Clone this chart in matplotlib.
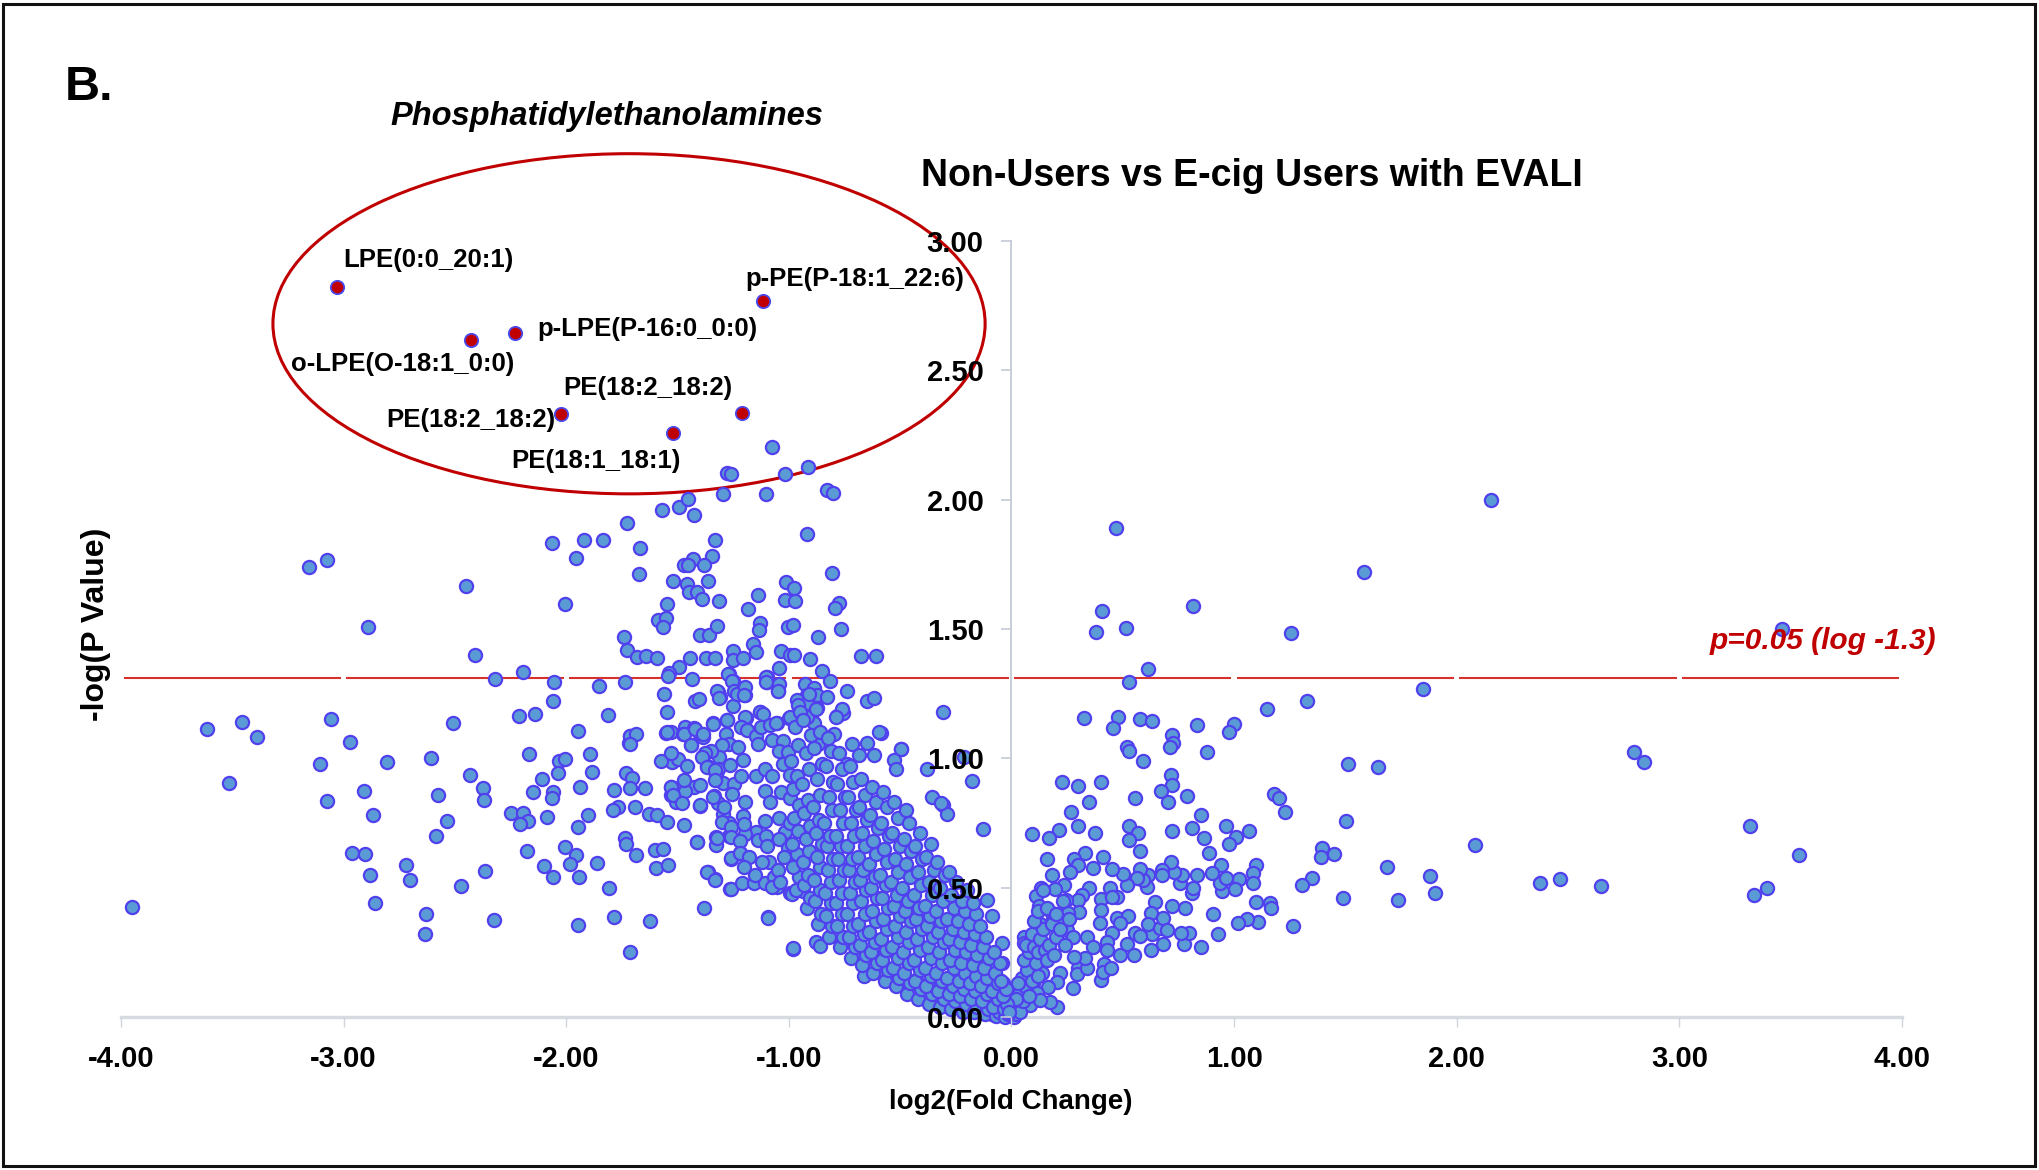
import matplotlib
matplotlib.use('Agg')
import matplotlib.pyplot as plt
from matplotlib.patches import Ellipse, Rectangle

plt.rcParams['font.family'] = ['Liberation Sans', 'DejaVu Sans']

# ---------------- data (log2 fold change, -log10 p) ----------------
labeled_names = ['LPE(0:0_20:1)', 'o-LPE(O-18:1_0:0)', 'p-LPE(P-16:0_0:0)',
                 'p-PE(P-18:1_22:6)', 'PE(18:2_18:2)', 'PE(18:2_18:2)', 'PE(18:1_18:1)']
labeled_x = [-3.03, -2.428, -2.23, -1.118, -1.211, -2.025, -1.519]
labeled_y = [2.824, 2.619, 2.645, 2.768, 2.334, 2.331, 2.257]

far_right = [(2.154, 2.00), (1.585, 1.722), (3.46, 1.50), (1.85, 1.268), (1.328, 1.22), (1.512, 0.98),
             (1.648, 0.967), (2.797, 1.024), (2.84, 0.987), (1.502, 0.759), (3.318, 0.738), (1.396, 0.654),
             (1.39, 0.617), (1.447, 0.632), (2.083, 0.665), (3.539, 0.626), (1.688, 0.578), (1.349, 0.538),
             (1.307, 0.509), (1.879, 0.547), (1.903, 0.479), (1.487, 0.459), (1.737, 0.451), (2.373, 0.518),
             (2.464, 0.534), (2.649, 0.508), (3.395, 0.498), (3.333, 0.473)]

right_mid = [(0.469, 1.890), (0.408, 1.568), (0.380, 1.488), (0.513, 1.505), (0.814, 1.589), (1.256, 1.486),
             (0.612, 1.344), (0.528, 1.294), (1.146, 1.191), (0.327, 1.156), (0.478, 1.161), (0.457, 1.118),
             (0.577, 1.151), (0.631, 1.144), (0.832, 1.128), (1.001, 1.133), (0.978, 1.103), (0.720, 1.089),
             (0.727, 1.060), (0.712, 1.044), (0.518, 1.044), (0.529, 1.029), (0.880, 1.026), (0.592, 0.990),
             (0.717, 0.937), (0.720, 0.897), (0.673, 0.875), (0.702, 0.832), (0.790, 0.854), (0.555, 0.848),
             (0.227, 0.907), (0.300, 0.893), (0.402, 0.907), (0.347, 0.832), (0.266, 0.791), (0.297, 0.740),
             (0.213, 0.723), (0.170, 0.693), (0.091, 0.707), (0.377, 0.710), (0.527, 0.740), (0.568, 0.710),
             (0.528, 0.684), (0.579, 0.642), (0.720, 0.719), (0.812, 0.729), (0.853, 0.781), (0.866, 0.691),
             (0.887, 0.635), (0.964, 0.738), (1.009, 0.697), (0.976, 0.668), (1.068, 0.720), (1.181, 0.861),
             (1.203, 0.848), (1.229, 0.791), (1.263, 0.353), (1.106, 0.367), (1.058, 0.380), (1.018, 0.362),
             (0.929, 0.320), (0.851, 0.272), (0.775, 0.281), (0.797, 0.323), (0.760, 0.326), (0.905, 0.399),
             (0.779, 0.421), (0.721, 0.429), (1.098, 0.446), (1.161, 0.439), (1.166, 0.420), (1.100, 0.586),
             (1.084, 0.558), (1.085, 0.517), (1.023, 0.532), (1.005, 0.494), (0.944, 0.488), (0.937, 0.519),
             (0.964, 0.539), (0.941, 0.586), (0.901, 0.555), (0.832, 0.549), (0.809, 0.480), (0.814, 0.497),
             (0.757, 0.517), (0.765, 0.549), (0.730, 0.562), (0.717, 0.600), (0.675, 0.568), (0.675, 0.549),
             (0.615, 0.549), (0.607, 0.504), (0.592, 0.530), (0.577, 0.571), (0.562, 0.536), (0.518, 0.510),
             (0.502, 0.552), (0.450, 0.571), (0.443, 0.497), (0.475, 0.465), (0.365, 0.575), (0.412, 0.620),
             (0.332, 0.633), (0.281, 0.612), (0.300, 0.588), (0.263, 0.562), (0.158, 0.611), (0.183, 0.548),
             (0.237, 0.510), (0.197, 0.495), (0.131, 0.500), (0.110, 0.468), (0.124, 0.430), (0.350, 0.500),
             (0.315, 0.472), (0.297, 0.452), (0.245, 0.452), (0.402, 0.455), (0.450, 0.465), (0.402, 0.414),
             (0.302, 0.407), (0.255, 0.401), (0.181, 0.403), (0.128, 0.358), (0.125, 0.313), (0.056, 0.310),
             (0.058, 0.285), (0.181, 0.368), (0.226, 0.356), (0.248, 0.336), (0.278, 0.310), (0.341, 0.310),
             (0.365, 0.269), (0.398, 0.365), (0.473, 0.382), (0.525, 0.390), (0.487, 0.362), (0.450, 0.326),
             (0.428, 0.291), (0.428, 0.259), (0.487, 0.240), (0.518, 0.282), (0.555, 0.326), (0.552, 0.240),
             (0.627, 0.259), (0.682, 0.281), (0.630, 0.320), (0.645, 0.446), (0.625, 0.401), (0.612, 0.359),
             (0.667, 0.343), (0.682, 0.382), (0.697, 0.336), (0.577, 0.313), (0.416, 0.204), (0.401, 0.143),
             (0.412, 0.175), (0.447, 0.188), (0.300, 0.188), (0.293, 0.165), (0.341, 0.191), (0.330, 0.227),
             (0.281, 0.231), (0.275, 0.113), (0.206, 0.037), (0.173, 0.059), (0.080, 0.205), (0.050, 0.143),
             (0.143, 0.220), (0.218, 0.169), (0.203, 0.136), (0.165, 0.117), (0.136, 0.169), (0.098, 0.130),
             (0.113, 0.092), (0.061, 0.092), (0.023, 0.066), (0.083, 0.046), (0.128, 0.066), (0.008, 0.027),
             (-0.022, 0.034), (-0.044, 0.066), (-0.044, 0.285), (-0.044, 0.208), (-0.037, 0.130)]

right_core = [(0.01, 0.0), (0.02, 0.01), (0.03, 0.03), (0.015, 0.05), (0.04, 0.02), (0.05, 0.06), (0.035, 0.09),
              (0.06, 0.12), (0.045, 0.15), (0.07, 0.18), (0.055, 0.22), (0.08, 0.25), (0.065, 0.28), (0.09, 0.32),
              (0.10, 0.27), (0.11, 0.21), (0.12, 0.25), (0.13, 0.30), (0.14, 0.34), (0.10, 0.37), (0.12, 0.41),
              (0.15, 0.26), (0.16, 0.22), (0.17, 0.28), (0.19, 0.24), (0.20, 0.31), (0.18, 0.36), (0.16, 0.42),
              (0.14, 0.49), (0.20, 0.40), (0.22, 0.34), (0.24, 0.28), (0.23, 0.45), (0.26, 0.38), (0.08, 0.08),
              (0.09, 0.14), (0.12, 0.16), (0.03, 0.13), (0.02, 0.07)]

left_sparse = [(-1.727, 1.908), (-2.064, 1.831), (-1.922, 1.846), (-1.834, 1.846), (-1.956, 1.776), (-1.669, 1.814),
               (-1.675, 1.711), (-3.157, 1.739), (-3.076, 1.767), (-2.451, 1.667), (-2.007, 1.596), (-2.892, 1.509),
               (-1.739, 1.469), (-1.727, 1.420), (-1.681, 1.393), (-2.409, 1.399), (-2.322, 1.308), (-2.196, 1.334),
               (-2.057, 1.294), (-1.738, 1.296), (-1.853, 1.279), (-2.060, 1.221), (-2.214, 1.163), (-2.139, 1.170),
               (-1.811, 1.167), (-3.613, 1.114), (-3.456, 1.140), (-3.388, 1.082), (-3.058, 1.153), (-2.508, 1.136),
               (-1.946, 1.106), (-1.714, 1.086), (-1.717, 1.058), (-2.972, 1.064), (-3.106, 0.980), (-2.807, 0.986),
               (-2.608, 1.002), (-2.169, 1.015), (-2.031, 0.991), (-2.006, 0.996), (-1.894, 1.017), (-3.515, 0.905),
               (-2.434, 0.934), (-2.037, 0.942), (-1.885, 0.947), (-1.732, 0.942), (-1.703, 0.923), (-2.111, 0.920),
               (-2.374, 0.886), (-2.371, 0.839), (-2.907, 0.874), (-3.076, 0.835), (-2.575, 0.858), (-2.151, 0.870),
               (-2.061, 0.869), (-2.063, 0.845), (-1.937, 0.888), (-1.784, 0.876), (-1.714, 0.885), (-1.769, 0.813),
               (-1.789, 0.800), (-1.690, 0.813), (-2.870, 0.781), (-2.537, 0.756), (-2.585, 0.700), (-2.247, 0.787),
               (-2.195, 0.787), (-2.173, 0.759), (-2.208, 0.745), (-2.085, 0.773), (-1.904, 0.780), (-1.947, 0.733),
               (-1.736, 0.693), (-1.730, 0.668), (-1.687, 0.626), (-2.961, 0.633), (-2.906, 0.629), (-2.881, 0.550),
               (-2.720, 0.589), (-2.701, 0.530), (-2.176, 0.640), (-2.006, 0.658), (-1.956, 0.627), (-1.985, 0.591),
               (-1.863, 0.596), (-2.101, 0.583), (-2.060, 0.540), (-1.944, 0.542), (-2.364, 0.566), (-2.473, 0.506),
               (-2.859, 0.441), (-3.950, 0.425), (-2.632, 0.398), (-2.635, 0.322), (-2.325, 0.374), (-1.946, 0.355),
               (-1.807, 0.497), (-1.784, 0.387), (-1.715, 0.252), (-1.624, 0.372), (-1.646, 0.886), (-1.627, 0.783),
               (-1.594, 0.781), (-1.602, 0.646), (-1.598, 0.575), (-1.564, 0.648), (-1.549, 0.752), (-1.544, 0.588),
               (-1.381, 0.420), (-1.093, 0.385), (-0.982, 0.264), (-1.263, 0.495), (-1.363, 0.561), (-1.333, 0.532),
               (-1.259, 0.612), (-1.221, 0.633), (-1.411, 0.675), (-1.327, 0.695), (-1.472, 0.744)]

left_upper = [(-1.074, 2.205), (-1.279, 2.105), (-1.260, 2.100), (-1.018, 2.099), (-0.916, 2.125), (-1.296, 2.020),
              (-1.104, 2.020), (-0.827, 2.037), (-0.801, 2.024), (-1.571, 1.960), (-1.492, 1.973), (-1.452, 2.001),
              (-1.425, 1.939), (-1.333, 1.844), (-1.347, 1.782), (-1.432, 1.769), (-1.471, 1.746), (-1.452, 1.746),
              (-1.381, 1.746), (-0.920, 1.867), (-0.805, 1.715), (-1.521, 1.685), (-1.459, 1.673), (-1.447, 1.644),
              (-1.414, 1.644), (-1.365, 1.685), (-1.389, 1.616), (-1.315, 1.609), (-1.549, 1.596), (-1.140, 1.631),
              (-1.182, 1.577), (-1.013, 1.683), (-0.976, 1.657), (-1.018, 1.612), (-0.973, 1.609), (-0.774, 1.602),
              (-0.794, 1.582), (-1.588, 1.535), (-1.552, 1.542), (-1.564, 1.509), (-1.642, 1.397), (-1.594, 1.387),
              (-1.444, 1.387), (-1.372, 1.389), (-1.331, 1.387), (-1.399, 1.475), (-1.359, 1.475), (-1.324, 1.510),
              (-1.130, 1.524), (-1.133, 1.496), (-1.005, 1.509), (-0.983, 1.515), (-0.766, 1.499), (-0.871, 1.469),
              (-1.160, 1.443), (-1.148, 1.412), (-1.250, 1.415), (-1.252, 1.380), (-1.205, 1.389), (-1.034, 1.415),
              (-0.995, 1.399), (-0.976, 1.399), (-0.905, 1.384), (-0.676, 1.395), (-0.609, 1.397), (-1.492, 1.354),
              (-1.539, 1.331), (-1.542, 1.318), (-1.434, 1.305), (-1.270, 1.326), (-1.250, 1.300), (-1.046, 1.350),
              (-1.100, 1.315), (-1.100, 1.296), (-1.048, 1.283), (-1.048, 1.261), (-0.850, 1.339), (-0.815, 1.299),
              (-0.928, 1.286), (-0.886, 1.271), (-0.920, 1.245), (-0.875, 1.245), (-0.830, 1.238), (-0.738, 1.261),
              (-1.560, 1.249), (-1.422, 1.222), (-1.403, 1.229), (-1.317, 1.257), (-1.310, 1.238), (-1.234, 1.251),
              (-1.197, 1.245), (-1.250, 1.202), (-0.965, 1.225), (-0.920, 1.213), (-0.650, 1.222), (-0.616, 1.232),
              (-0.309, 1.180), (-1.549, 1.178), (-1.130, 1.180), (-1.279, 1.148), (-1.193, 1.155), (-0.998, 1.155),
              (-0.905, 1.162), (-0.875, 1.194), (-0.785, 1.162), (-0.758, 1.175), (-1.342, 1.135), (-1.467, 1.122),
              (-1.055, 1.135)]

left_mid = [(-1.273, 1.326), (-1.257, 1.299), (-1.101, 1.314), (-1.103, 1.294), (-1.046, 1.289), (-1.050, 1.259),
            (-1.321, 1.261), (-1.313, 1.233), (-1.247, 1.261), (-1.231, 1.250), (-1.197, 1.275), (-1.201, 1.245),
            (-1.131, 1.178), (-1.117, 1.172), (-0.996, 1.158), (-1.341, 1.133), (-1.277, 1.148), (-1.197, 1.158),
            (-1.217, 1.123), (-1.187, 1.109), (-1.146, 1.088), (-1.127, 1.123), (-1.087, 1.130), (-1.057, 1.137),
            (-1.552, 1.098), (-1.528, 1.102), (-1.477, 1.096), (-1.427, 1.119), (-1.398, 1.096), (-1.387, 1.082),
            (-1.712, 1.088), (-1.688, 1.093), (-1.712, 1.057), (-1.283, 1.096), (-1.267, 1.054), (-1.227, 1.043),
            (-1.137, 1.054), (-1.076, 1.071), (-1.027, 1.068), (-1.046, 1.027), (-1.006, 1.024), (-1.438, 1.050),
            (-1.301, 1.051), (-1.315, 1.006), (-1.351, 1.027), (-1.377, 1.020), (-1.524, 0.985), (-1.498, 0.999),
            (-1.458, 0.971), (-1.368, 0.971), (-1.317, 0.957), (-1.263, 0.976), (-1.207, 0.992), (-1.146, 0.930),
            (-1.106, 0.960), (-1.076, 0.930), (-1.027, 0.978), (-0.996, 0.937), (-1.528, 0.891), (-1.477, 0.902),
            (-1.427, 0.891), (-1.398, 0.895), (-1.327, 0.937), (-1.297, 0.905), (-1.247, 0.902), (-1.217, 0.930),
            (-1.528, 0.857), (-1.508, 0.833), (-1.468, 0.875), (-1.398, 0.817), (-1.337, 0.854), (-1.317, 0.826),
            (-1.257, 0.861), (-1.197, 0.831), (-1.106, 0.875), (-1.087, 0.833), (-1.036, 0.868), (-0.996, 0.847),
            (-1.297, 0.785), (-1.267, 0.750), (-1.207, 0.778), (-1.146, 0.716), (-1.106, 0.757), (-1.046, 0.771),
            (-1.016, 0.716), (-0.996, 0.750), (-1.267, 0.698), (-1.197, 0.709), (-1.137, 0.684), (-1.101, 0.698),
            (-1.046, 0.688), (-1.006, 0.654), (-0.986, 0.626), (-1.575, 0.990), (-1.530, 1.020), (-1.549, 1.100),
            (-1.471, 1.095), (-1.422, 1.115), (-1.385, 1.095), (-1.440, 1.050), (-1.390, 1.006), (-1.370, 0.967),
            (-1.330, 0.955), (-1.530, 0.890), (-1.520, 0.858), (-1.480, 0.826), (-1.470, 0.916), (-1.330, 0.916),
            (-1.340, 0.850), (-1.290, 0.810), (-1.400, 0.820), (-1.300, 0.755), (-1.260, 0.735), (-1.200, 0.748),
            (-1.260, 0.697), (-1.220, 0.680), (-1.412, 0.675), (-1.329, 0.665), (-1.324, 0.693), (-1.367, 0.562),
            (-1.332, 0.530), (-1.261, 0.494), (-1.209, 0.517), (-1.155, 0.517), (-1.107, 0.517), (-1.055, 0.501),
            (-0.995, 0.480), (-1.093, 0.384), (-0.980, 0.266), (-0.880, 0.291), (-0.860, 0.273), (-0.663, 0.158),
            (-0.588, 0.182), (-1.260, 0.613), (-1.220, 0.633), (-1.088, 0.600), (-0.498, 1.035), (-0.588, 1.099),
            (-0.358, 0.852), (-0.309, 0.819), (-0.288, 0.785), (-0.179, 0.913), (-0.381, 0.959), (-0.127, 0.727),
            (-0.212, 1.006), (-0.111, 0.452), (-0.089, 0.390), (-0.321, 0.078), (-0.082, 0.010),
            (-0.761, 1.192), (-0.788, 1.158), (-0.798, 1.093), (-0.868, 1.054), (-0.888, 1.137), (-0.918, 1.158),
            (-0.958, 1.206), (-0.908, 1.247), (-0.878, 1.192), (-0.597, 1.102), (-0.647, 1.061), (-0.617, 1.013),
            (-0.717, 1.054), (-0.687, 1.013), (-0.738, 0.978), (-0.497, 1.037), (-0.527, 0.992), (-0.517, 0.960),
            (-0.317, 0.826), (-0.196, 0.343), (-0.166, 0.281), (-0.116, 0.240), (-0.076, 0.198), (-0.056, 0.143),
            (-0.517, 0.247), (-0.467, 0.212), (-0.427, 0.143), (-0.316, 0.129), (-0.322, 0.081), (-0.196, 0.074),
            (-0.086, 0.012), (-0.681, 0.240), (-0.627, 0.240), (-0.761, 0.288), (-0.988, 0.474), (-0.938, 0.488),
            (-1.068, 0.543), (-1.078, 0.502), (-1.15, 0.55), (-1.12, 0.60), (-1.05, 0.57), (-1.02, 0.62),
            (-1.18, 0.62), (-1.10, 0.66), (-1.20, 0.58), (-1.04, 0.52)]

left_core = [
    (-0.97, 0.49), (-0.955, 0.54), (-0.982, 0.58), (-0.962, 0.63), (-0.988, 0.67), (-0.96, 0.72), (-0.975, 0.77),
    (-0.953, 0.82), (-0.98, 0.88), (-0.965, 0.93), (-0.99, 0.99), (-0.958, 1.05), (-0.972, 1.12), (-0.95, 1.18),
    (-0.92, 0.42), (-0.905, 0.46), (-0.932, 0.51), (-0.912, 0.55), (-0.938, 0.60), (-0.91, 0.64), (-0.925, 0.69),
    (-0.903, 0.74), (-0.93, 0.79), (-0.915, 0.84), (-0.94, 0.90), (-0.908, 0.96), (-0.922, 1.02), (-0.90, 1.09),
    (-0.935, 1.15),
    (-0.87, 0.36), (-0.855, 0.40), (-0.882, 0.45), (-0.862, 0.49), (-0.888, 0.53), (-0.86, 0.58), (-0.875, 0.62),
    (-0.853, 0.67), (-0.88, 0.71), (-0.865, 0.76), (-0.89, 0.81), (-0.858, 0.86), (-0.872, 0.92), (-0.85, 0.98),
    (-0.885, 1.04), (-0.86, 1.10),
    (-0.82, 0.31), (-0.805, 0.35), (-0.832, 0.39), (-0.812, 0.44), (-0.838, 0.48), (-0.81, 0.52), (-0.825, 0.57),
    (-0.803, 0.61), (-0.83, 0.66), (-0.815, 0.70), (-0.84, 0.75), (-0.808, 0.80), (-0.822, 0.85), (-0.80, 0.91),
    (-0.835, 0.97), (-0.81, 1.03), (-0.826, 1.08),
    (-0.77, 0.27), (-0.755, 0.31), (-0.782, 0.35), (-0.762, 0.40), (-0.788, 0.44), (-0.76, 0.48), (-0.775, 0.53),
    (-0.753, 0.57), (-0.78, 0.61), (-0.765, 0.66), (-0.79, 0.70), (-0.758, 0.75), (-0.772, 0.80), (-0.75, 0.85),
    (-0.785, 0.90), (-0.76, 0.96), (-0.776, 1.02),
    (-0.72, 0.23), (-0.705, 0.27), (-0.732, 0.31), (-0.712, 0.35), (-0.738, 0.40), (-0.71, 0.44), (-0.725, 0.48),
    (-0.703, 0.52), (-0.73, 0.57), (-0.715, 0.61), (-0.74, 0.66), (-0.708, 0.70), (-0.722, 0.75), (-0.70, 0.80),
    (-0.735, 0.85), (-0.71, 0.91), (-0.726, 0.97),
    (-0.67, 0.20), (-0.655, 0.24), (-0.682, 0.28), (-0.662, 0.32), (-0.688, 0.36), (-0.66, 0.40), (-0.675, 0.45),
    (-0.653, 0.49), (-0.68, 0.53), (-0.665, 0.57), (-0.69, 0.62), (-0.658, 0.66), (-0.672, 0.71), (-0.65, 0.76),
    (-0.685, 0.81), (-0.66, 0.86), (-0.676, 0.92),
    (-0.62, 0.17), (-0.605, 0.21), (-0.632, 0.25), (-0.612, 0.29), (-0.638, 0.33), (-0.61, 0.37), (-0.625, 0.41),
    (-0.603, 0.46), (-0.63, 0.50), (-0.615, 0.54), (-0.64, 0.59), (-0.608, 0.63), (-0.622, 0.68), (-0.60, 0.73),
    (-0.635, 0.78), (-0.61, 0.83), (-0.626, 0.89),
    (-0.57, 0.14), (-0.555, 0.18), (-0.582, 0.22), (-0.562, 0.26), (-0.588, 0.30), (-0.56, 0.34), (-0.575, 0.38),
    (-0.553, 0.42), (-0.58, 0.46), (-0.565, 0.51), (-0.59, 0.55), (-0.558, 0.60), (-0.572, 0.65), (-0.55, 0.70),
    (-0.585, 0.75), (-0.56, 0.81), (-0.576, 0.87),
    (-0.52, 0.12), (-0.505, 0.15), (-0.532, 0.19), (-0.512, 0.23), (-0.538, 0.27), (-0.51, 0.31), (-0.525, 0.35),
    (-0.503, 0.39), (-0.53, 0.43), (-0.515, 0.47), (-0.54, 0.52), (-0.508, 0.56), (-0.522, 0.61), (-0.50, 0.66),
    (-0.535, 0.71), (-0.51, 0.77), (-0.526, 0.83),
    (-0.47, 0.09), (-0.455, 0.13), (-0.482, 0.17), (-0.462, 0.21), (-0.488, 0.25), (-0.46, 0.29), (-0.475, 0.33),
    (-0.453, 0.37), (-0.48, 0.41), (-0.465, 0.45), (-0.49, 0.50), (-0.458, 0.54), (-0.472, 0.59), (-0.45, 0.64),
    (-0.485, 0.69), (-0.46, 0.75), (-0.476, 0.80),
    (-0.42, 0.07), (-0.405, 0.11), (-0.432, 0.14), (-0.412, 0.18), (-0.438, 0.22), (-0.41, 0.26), (-0.425, 0.30),
    (-0.403, 0.34), (-0.43, 0.38), (-0.415, 0.42), (-0.44, 0.47), (-0.408, 0.51), (-0.422, 0.56), (-0.40, 0.61),
    (-0.435, 0.66), (-0.41, 0.71),
    (-0.37, 0.05), (-0.355, 0.09), (-0.382, 0.12), (-0.362, 0.16), (-0.388, 0.19), (-0.36, 0.23), (-0.375, 0.27),
    (-0.353, 0.31), (-0.38, 0.35), (-0.365, 0.39), (-0.39, 0.43), (-0.358, 0.47), (-0.372, 0.52), (-0.35, 0.57),
    (-0.385, 0.62), (-0.36, 0.67),
    (-0.32, 0.04), (-0.305, 0.07), (-0.332, 0.10), (-0.312, 0.14), (-0.338, 0.17), (-0.31, 0.21), (-0.325, 0.25),
    (-0.303, 0.29), (-0.33, 0.33), (-0.315, 0.37), (-0.34, 0.41), (-0.308, 0.45), (-0.322, 0.50), (-0.30, 0.55),
    (-0.335, 0.60),
    (-0.27, 0.03), (-0.255, 0.06), (-0.282, 0.09), (-0.262, 0.12), (-0.288, 0.15), (-0.26, 0.19), (-0.275, 0.22),
    (-0.253, 0.26), (-0.28, 0.30), (-0.265, 0.34), (-0.29, 0.38), (-0.258, 0.42), (-0.272, 0.47), (-0.25, 0.52),
    (-0.28, 0.56),
    (-0.22, 0.02), (-0.205, 0.05), (-0.232, 0.08), (-0.212, 0.11), (-0.238, 0.14), (-0.21, 0.17), (-0.225, 0.21),
    (-0.203, 0.25), (-0.23, 0.29), (-0.215, 0.33), (-0.24, 0.37), (-0.208, 0.41), (-0.222, 0.45), (-0.20, 0.49),
    (-0.17, 0.02), (-0.155, 0.04), (-0.182, 0.07), (-0.162, 0.10), (-0.188, 0.13), (-0.16, 0.16), (-0.175, 0.20),
    (-0.153, 0.24), (-0.18, 0.28), (-0.165, 0.32), (-0.19, 0.36), (-0.158, 0.40), (-0.172, 0.44),
    (-0.12, 0.01), (-0.105, 0.03), (-0.132, 0.06), (-0.112, 0.09), (-0.138, 0.12), (-0.11, 0.15), (-0.125, 0.19),
    (-0.103, 0.23), (-0.13, 0.27), (-0.115, 0.31), (-0.14, 0.35),
    (-0.07, 0.005), (-0.055, 0.02), (-0.082, 0.04), (-0.062, 0.07), (-0.088, 0.10), (-0.06, 0.13), (-0.075, 0.17),
    (-0.053, 0.21), (-0.08, 0.25),
    (-0.03, 0.0), (-0.015, 0.01), (-0.035, 0.03), (-0.02, 0.05), (-0.04, 0.08), (-0.025, 0.11), (-0.045, 0.14),
    (-0.01, 0.02)]

threshold = 1.31
x_ticks = [-4, -3, -2, -1, 0, 1, 2, 3, 4]
y_ticks = [0.0, 0.5, 1.0, 1.5, 2.0, 2.5, 3.0]
x_tick_labels = ['-4.00', '-3.00', '-2.00', '-1.00', '0.00', '1.00', '2.00', '3.00', '4.00']
y_tick_labels = ['0.00', '0.50', '1.00', '1.50', '2.00', '2.50', '3.00']

# ---------------- figure ----------------
W, H = 2040, 1170
fig = plt.figure(figsize=(W / 100, H / 100), dpi=100)
ax = fig.add_axes([121 / W, 1 - 1017 / H, (1902 - 121) / W, (1017 - 241) / H])
ax.set_xlim(-4, 4)
ax.set_ylim(0, 3)
ax.set_axisbelow(False)

for s in ['top', 'right']:
    ax.spines[s].set_visible(False)
ax.spines['left'].set_position(('data', 0))
ax.spines['left'].set_bounds(0, 3)
ax.spines['left'].set_color('#c3cad6')
ax.spines['left'].set_linewidth(1.3)
ax.spines['left'].set_zorder(0.5)
ax.spines['bottom'].set_color('#d6dbe2')
ax.spines['bottom'].set_linewidth(2.4)
ax.spines['bottom'].set_zorder(0.5)

ax.set_xticks(x_ticks)
ax.set_xticklabels(x_tick_labels)
ax.set_yticks(y_ticks)
ax.set_yticklabels(y_tick_labels)
ax.tick_params(axis='x', direction='out', length=7, width=1.0, color='#d0d5dd', pad=13,
               labelsize=21)
ax.tick_params(axis='y', direction='out', length=7, width=1.2, color='#c3cad6', pad=13,
               labelsize=21)
for lab in ax.get_xticklabels() + ax.get_yticklabels():
    lab.set_fontweight('bold')

# threshold line (with small gaps at integer positions)
for a, b in zip(x_ticks[:-1], x_ticks[1:]):
    ax.plot([a + 0.012, b - 0.012], [threshold, threshold], color='#d8312c', lw=1.5, zorder=1,
            solid_capstyle='butt')

# blue points
all_pts = far_right + right_mid + right_core + left_sparse + left_upper + left_mid + left_core
bx = [p[0] for p in all_pts]
by = [p[1] for p in all_pts]
ax.scatter(bx, by, s=90, facecolor='#5b9bd5', edgecolor='#5140ee', linewidth=1.6, zorder=2,
           clip_on=False)

# highlighted PE points
ax.scatter(labeled_x, labeled_y, s=92, facecolor='#c00000', edgecolor='#4a4af0', linewidth=1.3,
           zorder=3, clip_on=False)

# ellipse around phosphatidylethanolamines
ax.add_patch(Ellipse((-1.718, 2.68), 3.199, 1.315, fill=False, edgecolor='#c00000', linewidth=2.2,
                     zorder=1.5, clip_on=False))

# point labels
label_pos = [(-3.001, 2.926, 'left'), (-3.235, 2.523, 'left'), (-2.130, 2.659, 'left'),
             (-1.195, 2.855, 'left'), (-2.013, 2.433, 'left'), (-2.808, 2.307, 'left'),
             (-2.247, 2.151, 'left')]
for name, (lx, ly, ha) in zip(labeled_names, label_pos):
    ax.text(lx, ly, name, fontsize=18.5, fontweight='bold', ha=ha, va='center', zorder=4, clip_on=False)

ax.text(3.136, 1.455, 'p=0.05 (log -1.3)', color='#c00000', fontsize=21.5, fontweight='bold',
        style='italic', ha='left', va='center', zorder=4)

# titles / labels
fig.text(65 / W, 1 - 88 / H, 'B.', fontsize=35, fontweight='bold', ha='left', va='center')
fig.text(390 / W, 1 - 117 / H, 'Phosphatidylethanolamines', fontsize=23.5, fontweight='bold',
         style='italic', ha='left', va='center')
fig.text(921 / W, 1 - 176 / H, 'Non-Users vs E-cig Users with EVALI', fontsize=27, fontweight='bold',
         ha='left', va='center')
fig.text(1011 / W, 1 - 1102 / H, 'log2(Fold Change)', fontsize=20, fontweight='bold', ha='center',
         va='center')
fig.text(96 / W, 1 - 624 / H, '-log(P Value)', fontsize=23, fontweight='bold', ha='center', va='center',
         rotation=90)

# outer frame
fig.patches.append(Rectangle((3 / W, 4 / H), 2032 / W, 1162 / H, transform=fig.transFigure, fill=False,
                             edgecolor='#111111', linewidth=2.2))

fig.savefig('out.png', dpi=100)
